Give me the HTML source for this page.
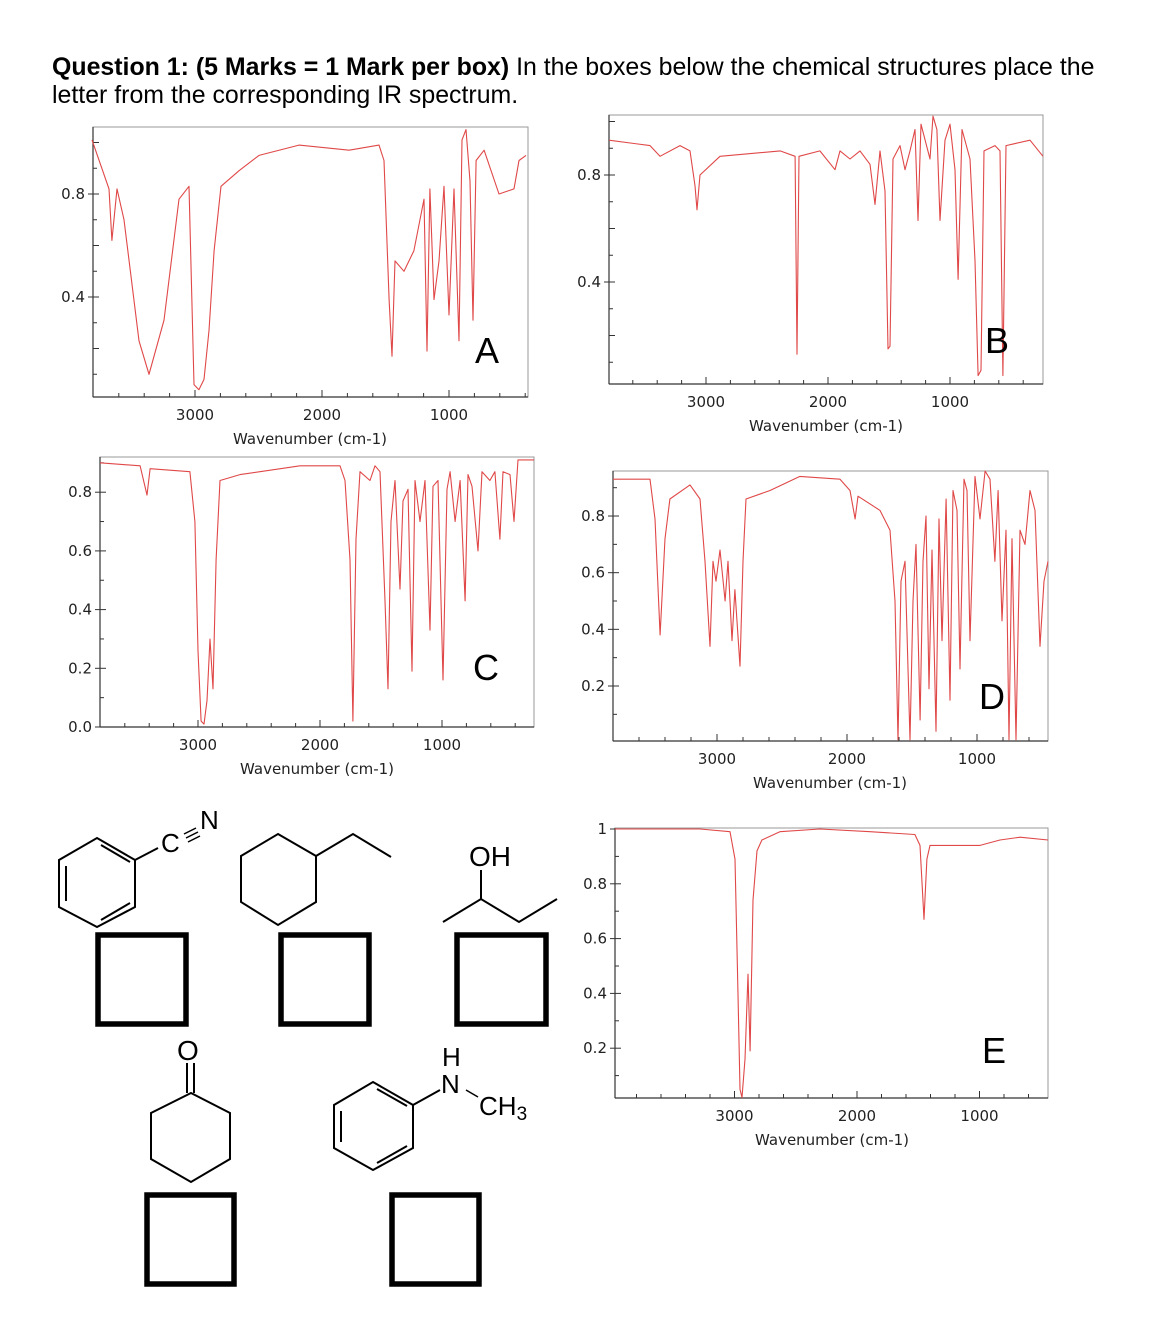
<!DOCTYPE html>
<html><head><meta charset="utf-8">
<style>
html,body{margin:0;padding:0;background:#fff;}
body{width:1167px;height:1340px;position:relative;overflow:hidden;}
.q{position:absolute;left:52px;top:53px;font-family:"Liberation Sans",sans-serif;font-size:24.9px;line-height:28px;color:#000;width:1110px;white-space:nowrap;}
svg{position:absolute;left:0;top:0;}
</style></head>
<body>
<div class="q"><b>Question 1: (5 Marks = 1 Mark per box)</b> In the boxes below the chemical structures place the<br>letter from the corresponding IR spectrum.</div>
<svg id="pg" width="1167" height="1340" xmlns="http://www.w3.org/2000/svg">
<g id="charts"></g>
<g id="mols" stroke="#000" stroke-width="2" fill="none" font-family="Liberation Sans, sans-serif">
  <g>
    <polygon points="97,838 135,860 135,907 97,927 59,907 59,860"/>
    <line x1="66" y1="866" x2="66" y2="901"/><line x1="101" y1="845" x2="130" y2="862"/><line x1="101" y1="920" x2="130" y2="903"/>
    <line x1="135" y1="860" x2="158" y2="848"/>
    <line x1="184" y1="834" x2="196" y2="828" stroke-width="1.5"/><line x1="186" y1="838" x2="198" y2="832" stroke-width="1.5"/><line x1="188" y1="842" x2="200" y2="836" stroke-width="1.5"/>
    <text x="161" y="852" font-size="26" fill="#000" stroke="none">C</text>
    <text x="200" y="829" font-size="26" fill="#000" stroke="none">N</text>
  </g>
  <g>
    <polygon points="278,834 316,856 316,902 278,925 241,902 241,856"/>
    <polyline points="316,856 353,834 391,857"/>
  </g>
  <g>
    <text x="469" y="866" font-size="28" fill="#000" stroke="none">OH</text>
    <line x1="481" y1="870" x2="481" y2="899"/>
    <polyline points="443,922 481,899 519,922 557,899"/>
  </g>
  <g>
    <text x="177" y="1060" font-size="28" fill="#000" stroke="none">O</text>
    <line x1="187" y1="1063" x2="187" y2="1093"/><line x1="194" y1="1063" x2="194" y2="1093"/>
    <polygon points="191,1093 230,1113 230,1159 191,1182 151,1159 151,1113"/>
  </g>
  <g>
    <polygon points="373,1082 413,1105 413,1148 373,1170 334,1148 334,1105"/>
    <line x1="341" y1="1111" x2="341" y2="1142"/><line x1="377" y1="1089" x2="407" y2="1106"/><line x1="377" y1="1163" x2="407" y2="1146"/>
    <line x1="413" y1="1105" x2="440" y2="1090"/>
    <text x="442" y="1066" font-size="26" fill="#000" stroke="none">H</text>
    <text x="441" y="1093" font-size="26" fill="#000" stroke="none">N</text>
    <line x1="466" y1="1090" x2="478" y2="1097" stroke-width="1.5"/>
    <text x="479" y="1115" font-size="26" fill="#000" stroke="none">CH<tspan font-size="19" dy="5">3</tspan></text>
  </g>
  <g stroke-width="5.5">
    <rect x="98" y="935" width="88" height="89"/>
    <rect x="281" y="935" width="88" height="89"/>
    <rect x="457" y="935" width="89" height="89"/>
    <rect x="147" y="1195" width="87" height="89"/>
    <rect x="392" y="1195" width="87" height="89"/>
  </g>
</g>
</svg>
<script>
// Spectrum A
const aWn=[3811,3677,3654,3614,3559,3441,3362,3244,3126,3047,3008,2969,2929,2890,2850,2795,2654,2496,2181,1787,1551,1512,1472,1449,1425,1354,1276,1197,1173,1150,1118,1079,1039,1000,961,921,898,866,835,811,787,724,606,488,449,394];
const aT=[1.01,0.82,0.62,0.82,0.70,0.23,0.10,0.31,0.78,0.83,0.06,0.04,0.08,0.27,0.58,0.83,0.89,0.95,0.99,0.97,0.99,0.93,0.39,0.17,0.54,0.50,0.58,0.78,0.19,0.82,0.39,0.54,0.83,0.33,0.82,0.23,1.01,1.05,0.85,0.31,0.93,0.97,0.80,0.82,0.93,0.95];
// Spectrum B
const bWn=[3795,3459,3377,3213,3131,3090,3074,3049,2885,2393,2270,2254,2238,2066,1943,1902,1820,1738,1656,1615,1574,1533,1508,1492,1467,1410,1369,1328,1287,1262,1238,1164,1139,1107,1082,1041,1000,959,934,902,836,795,770,746,721,631,590,566,541,344,238];
const bT=[0.93,0.91,0.87,0.91,0.89,0.76,0.67,0.80,0.87,0.89,0.87,0.13,0.87,0.89,0.82,0.89,0.86,0.89,0.84,0.69,0.89,0.74,0.15,0.16,0.86,0.91,0.82,0.89,0.97,0.63,0.99,0.86,1.02,0.97,0.63,0.93,0.99,0.82,0.41,0.97,0.86,0.48,0.05,0.07,0.89,0.91,0.89,0.05,0.91,0.93,0.87];
// Spectrum C
const cWn=[3803,3475,3418,3393,3066,3025,3000,2975,2951,2926,2902,2877,2852,2820,2656,2164,1836,1795,1754,1730,1705,1672,1590,1549,1508,1467,1443,1418,1385,1344,1320,1279,1246,1221,1180,1139,1098,1074,1033,992,959,934,893,852,811,787,754,705,672,607,566,525,500,443,410,377,246];
const cT=[0.90,0.89,0.79,0.88,0.87,0.70,0.26,0.02,0.01,0.09,0.30,0.13,0.57,0.84,0.86,0.89,0.89,0.84,0.57,0.02,0.64,0.87,0.84,0.89,0.87,0.43,0.13,0.70,0.84,0.47,0.77,0.81,0.19,0.84,0.70,0.84,0.33,0.82,0.84,0.16,0.81,0.87,0.70,0.84,0.43,0.86,0.82,0.60,0.87,0.84,0.87,0.64,0.87,0.86,0.70,0.91,0.91];
// Spectrum D
const dWn=[3800,3515,3477,3438,3400,3362,3208,3131,3092,3054,3031,3008,2977,2938,2915,2885,2862,2823,2800,2777,2592,2362,2054,1977,1938,1915,1746,1669,1631,1608,1585,1554,1515,1492,1469,1438,1415,1392,1369,1346,1315,1292,1269,1238,1208,1185,1154,1131,1100,1077,1054,1015,977,938,900,862,838,808,777,754,731,700,669,631,592,554,515,485,454];
const dT=[0.93,0.93,0.79,0.38,0.72,0.86,0.91,0.86,0.64,0.34,0.64,0.57,0.68,0.50,0.64,0.36,0.54,0.27,0.64,0.86,0.89,0.94,0.93,0.89,0.79,0.87,0.82,0.75,0.50,0.01,0.57,0.64,0.01,0.50,0.70,0.08,0.64,0.80,0.19,0.68,0.04,0.79,0.36,0.86,0.15,0.89,0.82,0.26,0.93,0.89,0.36,0.94,0.79,0.96,0.93,0.64,0.89,0.43,0.75,0.01,0.72,0.01,0.75,0.70,0.89,0.82,0.34,0.57,0.64];
// Spectrum E
const eWn=[3976,3282,3037,2996,2971,2955,2939,2914,2890,2873,2849,2816,2776,2629,2302,1894,1527,1486,1453,1429,1404,996,833,669,441];
const eT=[1.00,1.00,0.99,0.89,0.38,0.05,0.02,0.16,0.47,0.19,0.74,0.92,0.96,0.99,1.00,0.99,0.98,0.94,0.67,0.89,0.94,0.94,0.96,0.97,0.96];
// Tick labels
const xTickVals=[3000,2000,1000];
const yTicksA=[0.8,0.4];
const yTicksB=[0.8,0.4];
const yTicksC=[0.8,0.6,0.4,0.2,0.0];
const yTicksD=[0.8,0.6,0.4,0.2];
const yTicksE=[1,0.8,0.6,0.4,0.2];

const NS='http://www.w3.org/2000/svg';
const root=document.getElementById('charts');
function mk(tag,attrs,parent){const e=document.createElementNS(NS,tag);for(const k in attrs)e.setAttribute(k,attrs[k]);(parent||root).appendChild(e);return e;}

function chart(cfg){
  const g=mk('g',{});
  
  
  const [L,T,W,H]=cfg.box;
  const xs=wn=>cfg.px2000+(2000-wn)*cfg.per1000/1000;
  const ys=v=>cfg.yRefPx-(v-cfg.yRef)*cfg.pxPerUnit;
  const fr=mk('rect',{x:L,y:T,width:W,height:H,fill:'none',stroke:'#999','stroke-width':1},g);
  
  
  mk('line',{x1:L,y1:T,x2:L,y2:T+H,stroke:'#333','stroke-width':1.2},g);
  mk('line',{x1:L,y1:T+H,x2:L+W,y2:T+H,stroke:'#333','stroke-width':1.2},g);
  for(let w=4000;w>=0;w-=200){
    const x=xs(w); if(x<L+1||x>L+W-1)continue;
    const major=(w%1000===0);
    mk('line',{x1:x,y1:T+H,x2:x,y2:T+H-(major?7:4),stroke:'#333','stroke-width':1},g);
  }
  xTickVals.forEach(v=>{
    const t=mk('text',{x:xs(v),y:T+H+23,'text-anchor':'middle','font-size':15,fill:'#222','font-family':'DejaVu Sans, sans-serif'},g);
    t.textContent=v;
    
    
  });
  const xl=mk('text',{x:cfg.labelX,y:cfg.labelY,'text-anchor':'middle','font-size':15,fill:'#222','font-family':'DejaVu Sans, sans-serif'},g);
  xl.textContent='Wavenumber (cm-1)';
  
  
  for(let v=0;v<=1.2001;v+=0.1){
    const y=ys(v); if(y<T+1||y>T+H-1)continue;
    mk('line',{x1:L,y1:y,x2:L+(Math.round(v*10)%2===0?6:4),y2:y,stroke:'#333','stroke-width':1},g);
  }
  cfg.yTicks.forEach(v=>{
    const y=ys(v);
    mk('line',{x1:L-5,y1:y,x2:L,y2:y,stroke:'#333','stroke-width':1},g);
    const t=mk('text',{x:L-8,y:y+5,'text-anchor':'end','font-size':15,fill:'#222','font-family':'DejaVu Sans, sans-serif'},g);
    t.textContent=(v===1)?'1':v.toFixed(1);
    
    
  });
  const d=cfg.wn.map((w,i)=>(i?'L':'M')+xs(w).toFixed(1)+','+Math.min(T+H,Math.max(T,ys(cfg.t[i]))).toFixed(1)).join(' ');
  const p=mk('path',{d:d,fill:'none',stroke:'#e04848','stroke-width':1.1,'stroke-linejoin':'round'},g);
  
  
  const lt=mk('text',{x:cfg.letter[0],y:cfg.letter[1],'text-anchor':'middle','font-size':36,fill:'#000','font-family':'Liberation Sans, sans-serif'},g);
  lt.textContent=cfg.id;
  
  
}
chart({id:'A',box:[93,127,435,270],px2000:322,per1000:127,yRef:0.8,yRefPx:194,pxPerUnit:257.5,yTicks:yTicksA,wn:aWn,t:aT,labelX:310,labelY:444,letter:[487,363]});
chart({id:'B',box:[609,115,434,269],px2000:828,per1000:122,yRef:0.8,yRefPx:175,pxPerUnit:267.5,yTicks:yTicksB,wn:bWn,t:bT,labelX:826,labelY:431,letter:[997,353]});
chart({id:'C',box:[100,457,434,270],px2000:320,per1000:122,yRef:0,yRefPx:727,pxPerUnit:293.5,yTicks:yTicksC,wn:cWn,t:cT,labelX:317,labelY:774,letter:[486,680]});
chart({id:'D',box:[613,471,435,270],px2000:847,per1000:130,yRef:0.2,yRefPx:686,pxPerUnit:283.3,yTicks:yTicksD,wn:dWn,t:dT,labelX:830,labelY:788,letter:[992,709]});
chart({id:'E',box:[615,828,433,270],px2000:857,per1000:122.5,yRef:1,yRefPx:829,pxPerUnit:274,yTicks:yTicksE,wn:eWn,t:eT,labelX:832,labelY:1145,letter:[994,1063]});
</script>
</body></html>
